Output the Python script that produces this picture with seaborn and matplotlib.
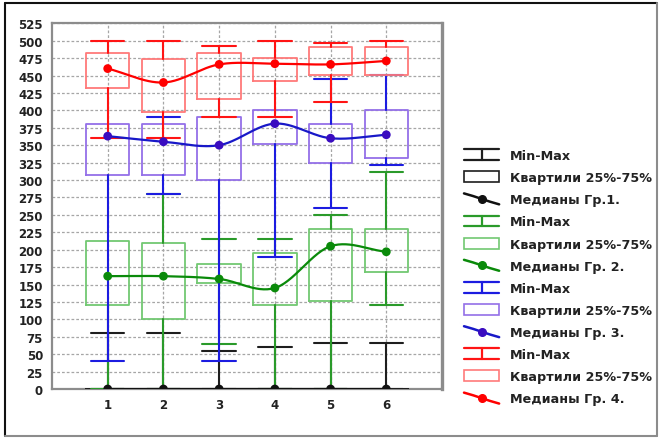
import numpy as np
import matplotlib
matplotlib.use("Agg")
import matplotlib.pyplot as plt
from matplotlib.lines import Line2D
from matplotlib.patches import Rectangle
from matplotlib.legend_handler import HandlerBase
import seaborn as sns

# Positions of the six measurements
x_pos = [1, 2, 3, 4, 5, 6]

# Group 1 (black)
g1_min = [0, 0, 0, 0, 0, 0]
g1_q1 = [0, 0, 0, 0, 0, 0]
g1_med = [0, 0, 0, 0, 0, 0]
g1_q3 = [0, 0, 0, 0, 0, 0]
g1_max = [80, 80, 55, 60, 66, 66]

# Group 2 (green)
g2_min = [0, 0, 65, 0, 0, 120]
g2_q1 = [120, 101, 152, 120, 126, 168]
g2_med = [162, 162, 158, 145, 205, 197]
g2_q3 = [212, 210, 180, 195, 229, 230]
g2_max = [212, 280, 215, 215, 250, 312]

# Group 3 (blue)
g3_min = [40, 280, 40, 190, 260, 322]
g3_q1 = [307, 307, 300, 352, 324, 332]
g3_med = [363, 355, 350, 381, 360, 365]
g3_q3 = [380, 380, 390, 400, 380, 400]
g3_max = [380, 390, 390, 400, 445, 451]

# Group 4 (red)
g4_min = [360, 360, 390, 390, 412, 451]
g4_q1 = [432, 397, 417, 442, 451, 451]
g4_med = [460, 440, 466, 467, 466, 471]
g4_q3 = [482, 474, 482, 475, 491, 491]
g4_max = [500, 500, 492, 500, 497, 500]

y_ticks = list(range(0, 526, 25))

legend_labels = [
    "Min-Max", "Квартили 25%-75%", "Медианы Гр.1.",
    "Min-Max", "Квартили 25%-75%", "Медианы Гр. 2.",
    "Min-Max", "Квартили 25%-75%", "Медианы Гр. 3.",
    "Min-Max", "Квартили 25%-75%", "Медианы Гр. 4.",
]

groups = [
    dict(mn=g1_min, q1=g1_q1, med=g1_med, q3=g1_q3, mx=g1_max,
         whisk="#1e1e1e", box="#1e1e1e", line="#111111", dot="#111111"),
    dict(mn=g2_min, q1=g2_q1, med=g2_med, q3=g2_q3, mx=g2_max,
         whisk="#2a9a2a", box="#72c872", line="#0a8a0a", dot="#0a8a0a"),
    dict(mn=g3_min, q1=g3_q1, med=g3_med, q3=g3_q3, mx=g3_max,
         whisk="#1c1ce0", box="#9470e8", line="#1818c8", dot="#3a0cc0"),
    dict(mn=g4_min, q1=g4_q1, med=g4_med, q3=g4_q3, mx=g4_max,
         whisk="#ff1414", box="#ff7a7a", line="#ff0000", dot="#ff0000"),
]


def smooth_curve(xs, ys, n=30):
    """Catmull-Rom curve through the points."""
    xs = np.asarray(xs, float)
    ys = np.asarray(ys, float)
    k = len(xs)
    m = np.zeros(k)
    m[1:-1] = (ys[2:] - ys[:-2]) / (xs[2:] - xs[:-2])
    m[0] = (ys[1] - ys[0]) / (xs[1] - xs[0])
    m[-1] = (ys[-1] - ys[-2]) / (xs[-1] - xs[-2])
    out_x, out_y = [], []
    for i in range(k - 1):
        h = xs[i + 1] - xs[i]
        t = np.linspace(0, 1, n, endpoint=(i == k - 2))
        h00 = 2 * t ** 3 - 3 * t ** 2 + 1
        h10 = t ** 3 - 2 * t ** 2 + t
        h01 = -2 * t ** 3 + 3 * t ** 2
        h11 = t ** 3 - t ** 2
        out_x.append(xs[i] + t * h)
        out_y.append(h00 * ys[i] + h10 * h * m[i] + h01 * ys[i + 1]
                     + h11 * h * m[i + 1])
    return np.concatenate(out_x), np.concatenate(out_y)


class MinMaxKey:
    def __init__(self, color):
        self.color = color


class QuartKey:
    def __init__(self, color):
        self.color = color


class MedianKey:
    def __init__(self, color, dot):
        self.color = color
        self.dot = dot


class HandlerMinMax(HandlerBase):
    def create_artists(self, legend, h, xd, yd, w, ht, fs, trans):
        x0, x1 = -xd, -xd + w
        y0, y1 = -yd, -yd + ht
        xm = (x0 + x1) / 2
        arts = [Line2D([x0, x1], [y1, y1]), Line2D([x0, x1], [y0, y0]),
                Line2D([xm, xm], [y0, y1])]
        for a in arts:
            a.set_color(h.color)
            a.set_linewidth(1.6)
            a.set_transform(trans)
        return arts


class HandlerQuart(HandlerBase):
    def create_artists(self, legend, h, xd, yd, w, ht, fs, trans):
        r = Rectangle((-xd, -yd), w, ht, facecolor="white",
                      edgecolor=h.color, linewidth=1.2, transform=trans)
        return [r]


class HandlerMedian(HandlerBase):
    def create_artists(self, legend, h, xd, yd, w, ht, fs, trans):
        x0, x1 = -xd, -xd + w
        y0, y1 = -yd, -yd + ht
        xm, ym = (x0 + x1) / 2, (y0 + y1) / 2
        ln = Line2D([x0, xm - 6, xm, xm + 6, x1],
                    [y1, ym + 2, ym, ym - 2, y0],
                    color=h.color, linewidth=1.8, transform=trans)
        dot = Line2D([xm], [ym], marker="o", markersize=5.5, color=h.dot,
                     linestyle="none", transform=trans)
        return [ln, dot]


sns.set_style("white")
plt.rcParams["font.family"] = ["DejaVu Sans"]

fig = plt.figure(figsize=(6.6, 4.39), dpi=100)
ax = fig.add_axes([52 / 660, 49 / 439, 390 / 660, 365.7 / 439])

grid_kw = dict(color="#a6a6a6", linestyle=(0, (2.2, 1.6)), linewidth=0.9)
ax.set_axisbelow(True)
ax.yaxis.grid(True, **grid_kw)
ax.xaxis.grid(True, **grid_kw)

# Whiskers, caps and quartile boxes for each group
for g in groups:
    stats = []
    for i in range(len(x_pos)):
        stats.append(dict(med=g["med"][i], q1=g["q1"][i], q3=g["q3"][i],
                          whislo=g["mn"][i], whishi=g["mx"][i], fliers=[]))
    parts = ax.bxp(stats, positions=x_pos, widths=0.78, capwidths=0.6,
                   showfliers=False, manage_ticks=False, patch_artist=False,
                   boxprops=dict(color=g["box"], linewidth=1.3),
                   whiskerprops=dict(color=g["whisk"], linewidth=1.5),
                   capprops=dict(color=g["whisk"], linewidth=1.5),
                   medianprops=dict(linewidth=0))
    # a cap is only drawn where the whisker leaves the box
    for i in range(len(x_pos)):
        lo_cap, hi_cap = parts["caps"][2 * i], parts["caps"][2 * i + 1]
        if g["mn"][i] == g["q1"][i] and g["q1"][i] != g["q3"][i]:
            lo_cap.set_visible(False)
        if g["mx"][i] == g["q3"][i] and g["q1"][i] != g["q3"][i]:
            hi_cap.set_visible(False)

# Median curves with markers
for g in groups:
    sx, sy = smooth_curve(x_pos, g["med"])
    ax.plot(sx, sy, color=g["line"], linewidth=1.6, zorder=3,
            solid_capstyle="round")
    sns.scatterplot(x=x_pos, y=g["med"], color=g["dot"], s=40,
                    edgecolor="none", ax=ax, zorder=4)

ax.set_xlim(0, 7)
ax.set_ylim(0, 525)
ax.set_xticks(x_pos)
ax.set_yticks(y_ticks)
ax.tick_params(length=0, labelsize=8.5, labelcolor="#222222", pad=6.5)
for lab in ax.get_xticklabels() + ax.get_yticklabels():
    lab.set_fontweight("bold")
for sp in ax.spines.values():
    sp.set_color("#8c8c8c")
    sp.set_linewidth(1.6)
    sp.set_zorder(1)
ax.spines["right"].set_linewidth(2.4)

# Legend
handles = []
for g in groups:
    handles += [MinMaxKey(g["whisk"]), QuartKey(g["box"]),
                MedianKey(g["line"], g["dot"])]
leg = fig.legend(
    handles, legend_labels, loc="upper left",
    bbox_to_anchor=(464 / 660, 1 - 150 / 439), frameon=False,
    borderpad=0, borderaxespad=0, handlelength=2.75, handleheight=0.94,
    handletextpad=0.85, labelspacing=0.715,
    prop=dict(family="DejaVu Sans", weight="bold", size=9.2),
    handler_map={MinMaxKey: HandlerMinMax(), QuartKey: HandlerQuart(),
                 MedianKey: HandlerMedian()})
for t in leg.get_texts():
    t.set_color("#222222")

# Panel frame around the figure
fig.add_artist(Line2D([5 / 660, 5 / 660], [1 - 4 / 439, 1 - 437 / 439],
                      color="#111111", linewidth=1.5))
fig.add_artist(Line2D([5 / 660, 657 / 660], [1 - 4 / 439, 1 - 4 / 439],
                      color="#111111", linewidth=1.5))
fig.add_artist(Line2D([657 / 660, 657 / 660], [1 - 4 / 439, 1 - 437 / 439],
                      color="#8c8c8c", linewidth=1.5))
fig.add_artist(Line2D([5 / 660, 657 / 660], [1 - 437 / 439, 1 - 437 / 439],
                      color="#8c8c8c", linewidth=1.5))

fig.savefig("out.png", dpi=100)
